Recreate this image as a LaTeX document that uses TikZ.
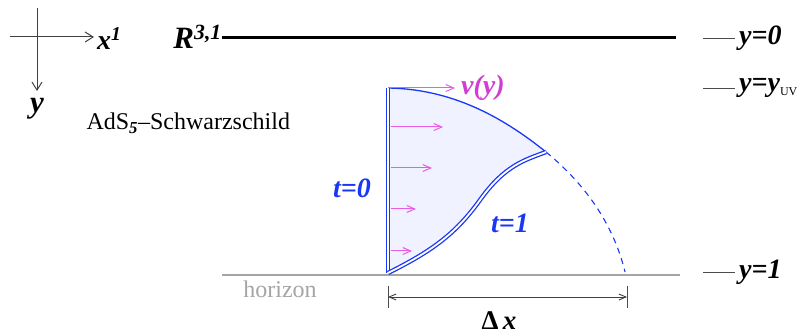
\documentclass[tikz,border=0pt]{standalone}
\usepackage{fontspec}
\setmainfont{Liberation Serif}
\usetikzlibrary{arrows.meta,positioning}
\definecolor{wallblue}{RGB}{25,55,245}
\definecolor{bulkfill}{RGB}{241,242,255}
\definecolor{flowpink}{RGB}{232,90,232}
\definecolor{flowtext}{RGB}{210,60,210}
\definecolor{horizongray}{RGB}{165,165,165}

\begin{document}
\begin{tikzpicture}[
    x=1pt, y=-1pt,
    lbl/.style={font=\fontsize{28}{32}\selectfont\bfseries\itshape, inner sep=0pt},
    axis/.style={draw=black!75, line width=1pt, -{Straight Barb[length=8pt,width=10pt]}},
    wall/.style={draw=wallblue, double=white, double distance=1.8pt, line width=1.3pt},
    flow/.style={draw=flowpink, line width=1pt, -{Straight Barb[length=8pt,width=7pt]}},
    level/.style={draw=black!70, line width=0.9pt},
    dim/.style={draw=black!75, line width=0.9pt, {Straight Barb[length=7pt,width=6pt]}-{Straight Barb[length=7pt,width=6pt]}}
]
\useasboundingbox (0,0) rectangle (809,336);

% axes
\coordinate (xl) at (10,37);
\coordinate (xr) at (94,37);
\coordinate (yt) at (37,8);
\coordinate (yb) at (37,91);
\draw[axis] (xl) -- (xr);
\draw[axis] (yt) -- (yb);
\node[lbl, anchor=west] (xlab) at (97,39) {x\textsuperscript{1}};
\node[lbl, font=\fontsize{31}{34}\selectfont\bfseries\itshape, anchor=north] (ylab) at (37,98) {y};

% boundary
\node[lbl, font=\fontsize{31}{34}\selectfont\bfseries\itshape, anchor=base east] (rlab) at (222,49) {R\textsuperscript{3,1}};
\coordinate (bl) at (222,38);
\coordinate (br) at (676,38);
\draw[line width=3pt] (bl) -- (br);

% levels
\coordinate (l0) at (703,38);
\coordinate (luv) at (703,88);
\coordinate (l1) at (703,272);
\node[lbl, anchor=west] (yzero) at (739,38) {y=0};
\node[lbl, anchor=west] (yuv) at (739,88) {y=y\textsubscript{\normalfont\fontsize{12}{12}\selectfont UV}};
\node[lbl, anchor=west] (yone) at (739,272) {y=1};
\draw[level] (l0) -- ([xshift=-4pt]yzero.west);
\draw[level] (luv) -- ([xshift=-4pt]yuv.west);
\draw[level] (l1) -- ([xshift=-4pt]yone.west);

\node[font=\fontsize{24}{28}\selectfont, anchor=west] (ads) at (83,123) {AdS\textsubscript{\bfseries\itshape 5}–Schwarzschild};

% horizon
\draw[horizongray, line width=2pt] (222,275) -- (680,275);
\node[font=\fontsize{24}{28}\selectfont, text=horizongray] (horizonlab) at (280,289) {horizon};

% string region
\coordinate (top) at (388,88);
\coordinate (bot) at (388,273);
\coordinate (tip) at (546,152);
\coordinate (end) at (625,272);
\fill[bulkfill] (top) .. controls (450,89) and (500,115) .. (tip)
    .. controls (525,160) and (505,165) .. (480,200)
    .. controls (455,235) and (430,252) .. (bot) -- cycle;
\draw[wallblue, line width=1.3pt] (top) .. controls (450,89) and (500,115) .. (tip);
\draw[wallblue, line width=1.1pt, dash pattern=on 6pt off 5pt] (tip) .. controls (590,188) and (615,230) .. (end);

% velocity profile
\node[lbl, text=flowtext, anchor=west] (vlab) at (461,88) {v(y)};
\draw[flow, shorten >=6pt] (top) -- (vlab.west);
\foreach \yy/\xe in {127/443, 168/432, 209/416, 251/412}
    \draw[flow] (391,\yy) -- (\xe,\yy);

\draw[wall] (top) -- (bot);
\draw[wall] (bot) .. controls (430,252) and (455,235) .. (480,200)
    .. controls (505,165) and (525,160) .. (tip);
\node[lbl, text=wallblue] (tzero) at (352,188) {t=0};
\node[lbl, text=wallblue] (tone) at (510,223) {t=1};

% width
\coordinate (dl) at (388,297);
\coordinate (dr) at (627,297);
\draw[level] (388,286) -- (388,308);
\draw[level] (627,286) -- (627,308);
\draw[dim] (dl) -- (dr);
\node[font=\fontsize{27}{30}\selectfont\bfseries, inner sep=0pt] (dxlab) at (499,321) {Δ\,\textit{x}};
\end{tikzpicture}
\end{document}
